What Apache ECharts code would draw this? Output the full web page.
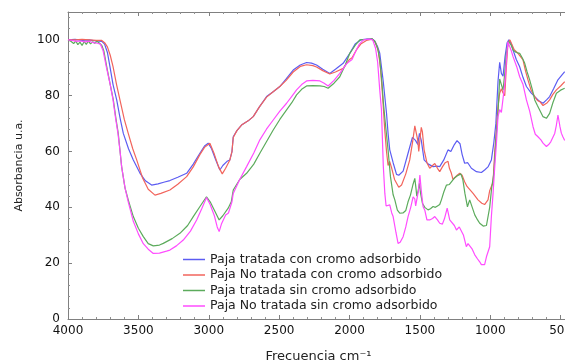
<!DOCTYPE html>
<html>
<head>
<meta charset="utf-8">
<script src="https://cdn.jsdelivr.net/npm/echarts@6/dist/echarts.min.js"></script>
<style>
  html, body { margin: 0; padding: 0; background: #fff; }
  #chart { width: 565px; height: 362px; }
</style>
</head>
<body>
<div id="chart"></div>
<script>
// espectros FTIR: [frecuencia cm-1, absorbancia]
const seriesNames = [
  'Paja tratada con cromo adsorbido',
  'Paja No tratada con cromo adsorbido',
  'Paja tratada sin cromo adsorbido',
  'Paja No tratada sin cromo adsorbido'
];
const seriesColors = ['#5c5cf2', '#f2645c', '#5cab5c', '#ff4cff'];

const tratadaCon = [
  [4000,100],[3950,100.2],[3900,99.8],[3850,100],[3800,99.6],[3760,99.5],[3740,98.5],[3720,95.5],
  [3702,90.4],[3680,84],[3654,78.5],[3630,72],[3607,66.5],[3570,61],[3536,57],[3489,52.3],[3450,49.5],
  [3406,48],[3360,48.4],[3320,49],[3276,49.6],[3220,50.8],[3157,52.2],[3110,55.5],[3063,59.4],[3030,62],
  [3004,63],[2980,61],[2950,57],[2921,53.4],[2900,55],[2870,56.5],[2850,57],[2835,60],[2826,65.3],
  [2800,67.5],[2767,69.5],[2720,71],[2684,72.5],[2640,76],[2589,79.7],[2540,81.5],[2495,83.3],[2450,86],
  [2400,89.2],[2350,91],[2305,91.9],[2270,91.7],[2234,91],[2190,89.5],[2140,88],[2100,89.5],[2045,91.6],
  [2000,95],[1960,98.5],[1920,100],[1880,100.3],[1840,100.4],[1820,99.5],[1800,97.5],[1785,95.2],
  [1760,85],[1737,73.7],[1726,66.5],[1714,60.6],[1690,56],[1666,51.8],[1650,51.5],[1619,53],[1584,59.4],
  [1553,65.1],[1531,64],[1515,62.5],[1503,66.5],[1490,64],[1470,57],[1440,55.5],[1406,54.6],[1380,54.8],
  [1359,54.6],[1330,57],[1300,60.6],[1280,60],[1255,62.5],[1236,63.9],[1215,62.8],[1200,59],[1182,55.8],
  [1160,56],[1134,54],[1098,52.8],[1063,52.5],[1040,53.4],[1016,54.5],[992,57],[975,63],[960,70],
  [945,85],[933,92],[921,88],[909,87],[895,94],[880,99],[868,100],[850,98.5],[838,96.4],[815,93],
  [791,90.4],[767,86.5],[743,83.3],[710,81],[684,79.7],[650,78],[625,77.3],[600,78.5],[578,79.7],
  [550,82.5],[519,85.7],[490,87.5],[471,88.6]
];

const noTratadaCon = [
  [4000,100],[3950,100],[3900,100.2],[3850,100],[3800,99.8],[3760,99.8],[3740,99],[3720,97.5],
  [3700,94.5],[3680,90.4],[3655,84],[3631,78.5],[3600,71.5],[3572,66.5],[3540,61],[3512,57],[3470,50.5],
  [3430,46.5],[3382,44.4],[3340,45],[3276,46.2],[3220,48.3],[3157,51],[3110,54.5],[3063,58.9],[3030,61.5],
  [2992,63],[2960,59],[2930,54.5],[2904,52],[2880,54],[2850,57],[2835,60],[2826,65],[2800,67.5],
  [2767,69.5],[2720,71],[2684,72.5],[2640,76],[2589,79.5],[2540,81.5],[2495,83.3],[2450,85.5],[2400,88.5],
  [2350,90.5],[2305,91.1],[2260,90.8],[2234,90.3],[2190,89],[2140,87.8],[2100,88.5],[2045,89.8],
  [2000,93],[1982,93.6],[1950,96.5],[1920,98.5],[1880,99.8],[1840,100.3],[1815,99],[1795,96],[1780,90],
  [1765,80],[1750,68],[1737,60],[1726,55],[1715,56.5],[1700,54],[1680,50],[1650,47.2],[1630,48],
  [1600,52],[1572,57],[1550,64],[1536,69.2],[1525,69.5],[1515,64],[1508,60],[1500,64],[1490,68.7],
  [1482,67],[1470,60.6],[1450,56],[1430,54],[1410,55],[1394,55.7],[1375,54],[1359,52.8],[1340,54.5],
  [1320,56],[1300,56.5],[1290,54],[1276,52.2],[1265,50],[1253,50.4],[1235,51.5],[1217,52.2],[1200,51.5],
  [1182,49.2],[1165,47.5],[1152,46.8],[1122,45],[1087,42.7],[1060,41.5],[1051,40.9],[1040,41],
  [1016,42.7],[1004,46],[980,49],[968,60],[956,68],[945,76],[933,80.9],[921,82.5],[909,81],[897,80],
  [886,90],[874,98.8],[860,100],[850,99.5],[830,96.5],[803,95.2],[785,94],[767,92.8],[750,89],
  [732,85.7],[710,82],[684,79.7],[665,78.3],[648,77.9],[625,76.5],[613,76.1],[595,77.5],[578,78.5],
  [555,80.5],[530,82.1],[500,83.5],[471,85]
];

const tratadaSin = [
  [4000,100],[3980,99.5],[3960,98.7],[3945,99.6],[3930,98.3],[3915,99.2],[3900,98],[3885,99.4],
  [3870,98.4],[3855,99.6],[3840,98.6],[3825,99.3],[3810,98.8],[3795,99.5],[3780,99],[3760,98],
  [3745,96],[3725,90.4],[3700,84],[3678,78.5],[3660,72],[3643,66.5],[3630,60],[3619,54.6],[3595,47],
  [3572,42.7],[3536,36.7],[3500,32.5],[3465,29.5],[3430,27],[3394,26.2],[3350,26.5],[3323,27.1],
  [3260,28.8],[3205,30.7],[3150,33.5],[3110,36.7],[3060,40.5],[3016,43.8],[2990,42],[2960,39],
  [2926,35.5],[2900,37],[2862,39.7],[2840,42],[2826,46.2],[2780,50],[2731,52.2],[2680,55.5],[2637,59.4],
  [2590,63.5],[2542,67.7],[2495,71.5],[2447,74.9],[2410,77.5],[2376,80.3],[2340,82.3],[2305,83.5],
  [2260,83.6],[2210,83.5],[2180,83.3],[2152,82.7],[2110,84.5],[2069,86.8],[2030,91],[1998,95.2],
  [1960,98],[1927,100],[1880,100.2],[1840,100.4],[1820,99.5],[1800,97],[1785,93],[1770,85],[1760,78],
  [1749,72],[1737,66],[1726,60.6],[1709,51],[1690,44.5],[1678,42.7],[1660,39],[1643,37.9],[1620,38],
  [1600,38.9],[1584,42],[1567,44.4],[1550,48],[1536,50.4],[1528,47],[1522,44],[1512,46],[1503,48.6],
  [1495,45],[1482,41.5],[1465,40],[1442,39.1],[1425,39.5],[1406,40.3],[1390,40],[1375,40.5],[1359,41],
  [1347,42.7],[1330,45.5],[1311,48],[1290,48.2],[1276,48.4],[1255,50.5],[1236,51.2],[1209,52],
  [1195,50],[1180,45],[1162,40.2],[1146,42.7],[1128,40],[1110,37.3],[1090,35.5],[1075,34.3],[1050,33.3],
  [1040,33.1],[1027,33.5],[1004,40],[990,47],[975,52],[960,64],[945,74],[933,86],[921,84],[909,82],
  [897,88],[886,95.2],[870,99.5],[862,100],[850,98],[838,96.4],[815,95.5],[791,95.2],[772,93.5],
  [755,91.6],[738,88.5],[720,85.7],[700,82],[684,78.5],[665,76.5],[649,74.9],[625,72.5],[601,71.9],
  [590,72.5],[578,73.7],[555,77.5],[530,80.9],[500,82],[471,82.7]
];

const noTratadaSin = [
  [4000,100],[3970,99.8],[3940,99.5],[3910,99.6],[3880,99.3],[3850,99.5],[3820,99],[3790,98.8],
  [3770,98.5],[3750,96],[3728,90.4],[3700,84],[3680,78.5],[3662,72],[3645,66.5],[3630,60],[3619,54.6],
  [3595,47],[3572,42],[3536,35],[3500,30.5],[3465,27],[3430,25],[3394,23.5],[3350,23.6],[3300,24.3],
  [3276,24.7],[3230,26.2],[3181,28.3],[3130,31.5],[3086,35.5],[3050,39.5],[3016,43.5],[2990,41],
  [2960,37],[2940,33],[2926,31.3],[2910,34],[2880,37.3],[2860,38],[2850,38.5],[2835,42],[2826,45],
  [2780,50],[2731,54.6],[2680,59.5],[2637,64.2],[2590,68],[2542,71.3],[2495,74.5],[2447,77.3],
  [2410,79.8],[2376,82.1],[2340,84],[2305,85.3],[2260,85.5],[2210,85.3],[2180,84.5],[2152,83.5],
  [2110,85.5],[2069,88],[2020,91.5],[1982,93],[1960,95.5],[1930,98.5],[1900,100],[1860,100.3],
  [1835,100],[1815,97],[1800,92],[1785,82],[1773,75],[1760,55],[1749,45],[1740,40.5],[1726,40.2],
  [1714,40.9],[1700,38],[1690,36.7],[1670,31],[1655,27.1],[1640,27.5],[1619,29.5],[1600,33],
  [1584,36.7],[1565,40],[1548,43.8],[1536,43],[1530,40.5],[1524,40.2],[1510,46],[1500,51.6],
  [1490,46],[1477,40.2],[1465,39],[1450,35.5],[1430,35.5],[1410,36],[1394,36.7],[1375,35.5],
  [1359,34.3],[1340,34],[1325,36],[1306,39.7],[1288,35.5],[1276,35.5],[1255,33.5],[1240,31.9],
  [1220,33],[1209,33.1],[1190,30],[1170,25.9],[1158,27],[1146,27.1],[1128,25],[1110,23],[1090,21.5],
  [1075,20.5],[1063,19.5],[1040,19.5],[1027,22.3],[1004,25.9],[992,36.7],[980,45],[968,54.6],
  [956,63],[945,72.5],[933,75],[921,74],[909,73.7],[895,85],[885,93],[875,99.4],[867,98.8],[850,96],
  [838,94],[812,90.4],[791,86.8],[767,84],[743,78.5],[720,74.5],[696,68.9],[680,66.2],[661,65.3],
  [640,64.2],[625,63],[601,61.8],[585,62.5],[570,63.5],[542,66.5],[530,69.5],[519,73.1],[512,73.1],
  [505,69],[495,66.6],[484,65.3],[471,64]
];

const spectra = [tratadaCon, noTratadaCon, tratadaSin, noTratadaSin];

const font = 'DejaVu Sans';
const myChart = echarts.init(document.getElementById('chart'));

// eje x comun (el de arriba solo lleva marcas)
const xAxisBase = {
  type: 'value',
  inverse: true,
  min: 0,
  max: 4000,
  interval: 500,
  axisLine: { show: true, onZero: false, lineStyle: { color: '#808080', width: 1 } },
  axisTick: { show: true, inside: true, length: 4, lineStyle: { color: '#808080' } },
  minorTick: { show: true, splitNumber: 5, length: 2, lineStyle: { color: '#909090' } },
  splitLine: { show: false },
};

myChart.setOption({
  animation: false,
  grid: {
    left: 68,
    top: 12,
    right: -66,
    bottom: 43,
    outerBoundsMode: 'none',
    containLabel: false,
  },
  legend: {
    orient: 'vertical',
    left: 183,
    top: 253,
    padding: 0,
    icon: 'rect',
    itemWidth: 22,
    itemHeight: 1.5,
    itemGap: 2.5,
    textStyle: { fontFamily: font, fontSize: 12.5, color: '#222', lineHeight: 13 },
    data: seriesNames,
  },
  xAxis: [
    {
      ...xAxisBase,
      position: 'bottom',
      name: 'Frecuencia cm\u207B\u00B9',
      nameLocation: 'middle',
      nameGap: 31,
      nameTextStyle: { fontFamily: font, fontSize: 13, color: '#222', padding: [0, 62, 0, 0] },
      axisLabel: { fontFamily: font, fontSize: 12, color: '#111', margin: 6, formatter: (v) => String(v) },
    },
    {
      ...xAxisBase,
      position: 'top',
      axisLabel: { show: false },
    },
  ],
  yAxis: {
    type: 'value',
    min: 0,
    max: 110,
    interval: 20,
    name: 'Absorbancia u.a.',
    nameLocation: 'middle',
    nameGap: 43,
    nameTextStyle: { fontFamily: font, fontSize: 11, color: '#222' },
    axisLine: { show: true, onZero: false, lineStyle: { color: '#808080', width: 1 } },
    axisTick: { show: true, inside: true, length: 4, lineStyle: { color: '#808080' } },
    minorTick: { show: true, splitNumber: 5, length: 2, lineStyle: { color: '#909090' } },
    splitLine: { show: false },
    axisLabel: {
      fontFamily: font,
      fontSize: 12,
      color: '#111',
      margin: 8,
      formatter: (v) => (v > 100 ? '' : String(v)),
    },
  },
  series: seriesNames.map((name, i) => ({
    name,
    type: 'line',
    xAxisIndex: 0,
    data: spectra[i],
    showSymbol: false,
    symbol: 'none',
    color: seriesColors[i],
    lineStyle: { width: 1.2, color: seriesColors[i] },
  })),
});
</script>
</body>
</html>
